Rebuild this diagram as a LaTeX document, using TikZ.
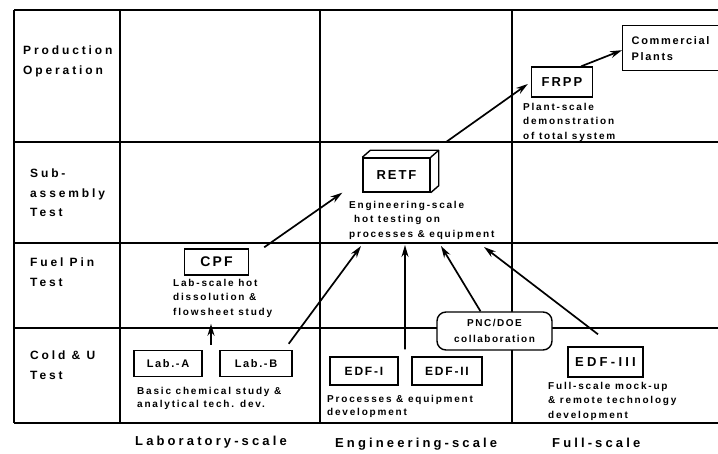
\documentclass[tikz,border=0pt]{standalone}
\usepackage{fontspec}
\setmainfont{Liberation Sans}
\newfontfamily\rowfont[LetterSpace=24]{Liberation Sans}
\newfontfamily\boxfont[LetterSpace=15]{Liberation Sans}
\newfontfamily\wideboxfont[LetterSpace=25]{Liberation Sans}
\newfontfamily\smallfont[LetterSpace=18]{Liberation Sans}
\usetikzlibrary{arrows.meta,calc}
\tikzset{
  gridline/.style={line width=1.5pt},
  box/.style={draw, line width=1.4pt, inner sep=0pt, fill=white,
    font=\boxfont\bfseries\fontsize{13}{15}\selectfont},
  lbl/.style={inner sep=0pt, anchor=north west, align=left,
    font=\smallfont\bfseries\fontsize{10}{14.5}\selectfont},
  rowlbl/.style={inner sep=0pt, anchor=north west, align=left,
    font=\rowfont\bfseries\fontsize{12}{19.8}\selectfont},
  scalelbl/.style={inner sep=0pt, anchor=base west,
    font=\rowfont\bfseries\fontsize{13}{15}\selectfont},
  arr/.style={line width=1.7pt, -{Stealth[length=12pt,width=7pt]}},
}
\begin{document}
\begin{tikzpicture}[x=1pt,y=-1pt]
\useasboundingbox (0,0) rectangle (718,454);
\clip (0,0) rectangle (718,454);
% grid
\draw[gridline] (14,10) -- (718,10);
\draw[gridline] (14,142) -- (718,142);
\draw[gridline] (14,243) -- (718,243);
\draw[gridline] (14,328) -- (718,328);
\draw[gridline] (14,423) -- (718,423);
\draw[gridline] (14,10) -- (14,423);
\draw[gridline] (120,10) -- (120,423);
\draw[gridline] (320,10) -- (320,423);
\draw[gridline] (512,10) -- (512,423);
% row labels
\node[rowlbl] (r1) at (23,45.5) {Production\\Operation};
\node[rowlbl] (r2) at (30,168.5) {Sub-\\assembly\\Test};
\node[rowlbl] (r3) at (30,257.5) {Fuel Pin\\Test};
\node[rowlbl] (r4) at (30,350.5) {Cold \& U\\Test};
% column labels
\node[scalelbl] (c1) at (135,446) {Laboratory-scale};
\node[scalelbl] (c2) at (335,447) {Engineering-scale};
\node[scalelbl] (c3) at (552,447) {Full-scale};
% boxes
\node[box, anchor=north west, minimum height=45pt, inner xsep=9pt, text width=90pt,
  align=left, font=\boxfont\bfseries\fontsize{11}{16}\selectfont] (comm) at (622,25) {Commercial\\Plants};
\node[box, minimum width=61pt, minimum height=30pt] (frpp) at (562,82) {FRPP};
\node[lbl] (frppl) at (523,103) {Plant-scale\\demonstration\\of total system};
\node[box, minimum width=67pt, minimum height=34pt] (retf) at (396.5,175) {RETF};
\draw[line width=1.4pt, line join=round] (retf.north west) -- ($(retf.north west)+(8,-7)$)
  -- ($(retf.north east)+(8,-7)$) -- ($(retf.south east)+(8,-7)$) -- (retf.south east);
\draw[line width=1.4pt] (retf.north east) -- ($(retf.north east)+(8,-7)$);
\node[lbl] (retfl) at (349,201) {Engineering-scale\\\hspace{5pt}hot testing on\\processes \& equipment};
\node[box, minimum width=64pt, minimum height=26pt, font=\boxfont\bfseries\fontsize{14}{16}\selectfont] (cpf) at (216.5,262) {CPF};
\node[lbl] (cpfl) at (173,279) {Lab-scale hot\\dissolution \&\\flowsheet study};
\node[box, minimum width=68pt, minimum height=26pt, font=\boxfont\bfseries\fontsize{11}{13}\selectfont] (laba) at (168,363.5) {Lab.-A};
\node[box, minimum width=72pt, minimum height=26pt, font=\boxfont\bfseries\fontsize{11}{13}\selectfont] (labb) at (256,363.5) {Lab.-B};
\node[lbl, font=\smallfont\bfseries\fontsize{10}{13.5}\selectfont] (labl) at (137,387) {Basic chemical study \&\\analytical tech. dev.};
\node[box, minimum width=68pt, minimum height=28pt, font=\boxfont\bfseries\fontsize{12}{14}\selectfont] (edf1) at (364,371) {EDF-I};
\node[box, minimum width=70pt, minimum height=28pt, font=\boxfont\bfseries\fontsize{12}{14}\selectfont] (edf2) at (447,371) {EDF-II};
\node[lbl, font=\smallfont\bfseries\fontsize{10}{13.5}\selectfont] (edfl) at (327,395) {Processes \& equipment\\development};
\node[box, minimum width=75pt, minimum height=30pt, font=\wideboxfont\bfseries\fontsize{13}{15}\selectfont] (edf3) at (605.5,362) {EDF-III};
\node[lbl] (edf3l) at (548,382) {Full-scale mock-up\\\& remote technology\\development};
\node[box, rounded corners=9pt, minimum width=115pt, minimum height=38pt, align=center,
  font=\boxfont\bfseries\fontsize{10}{16}\selectfont] (pnc) at (494.5,331) {PNC/DOE\\collaboration};
% arrow targets below RETF label
\coordinate (inA) at (361,246);
\coordinate (inB) at (405,245);
\coordinate (inC) at (441,246);
\coordinate (inD) at (484,247);
\coordinate (labmid) at ($(laba.north east)!0.5!(labb.north west)$);
\coordinate (edfmid) at ($(edf1.north east)!0.5!(edf2.north west)$);
% arrows
\draw[arr] ($(frpp.north east)+(-12,0)$) -- ($(comm.west)+(0,2)$);
\draw[arr] ($(retf.north east)+(15,-15)$) -- ($(frpp.west)+(-3,2)$);
\draw[arr] ($(cpf.north east)+(15,-1)$) -- ($(retf.south west)+(-20,0)$);
\draw[arr] ($(labmid)+(0,-5)$) -- ($(labmid)+(0,-26)$);
\draw[arr] ($(labb.north east)+(-4,-6)$) -- (inA);
\draw[arr] ($(edfmid)+(0,-7)$) -- (inB);
\draw[arr] ($(pnc.north)+(-14,0)$) -- (inC);
\draw[arr] ($(edf3.north)+(-7.5,-12)$) -- (inD);
\end{tikzpicture}
\end{document}
